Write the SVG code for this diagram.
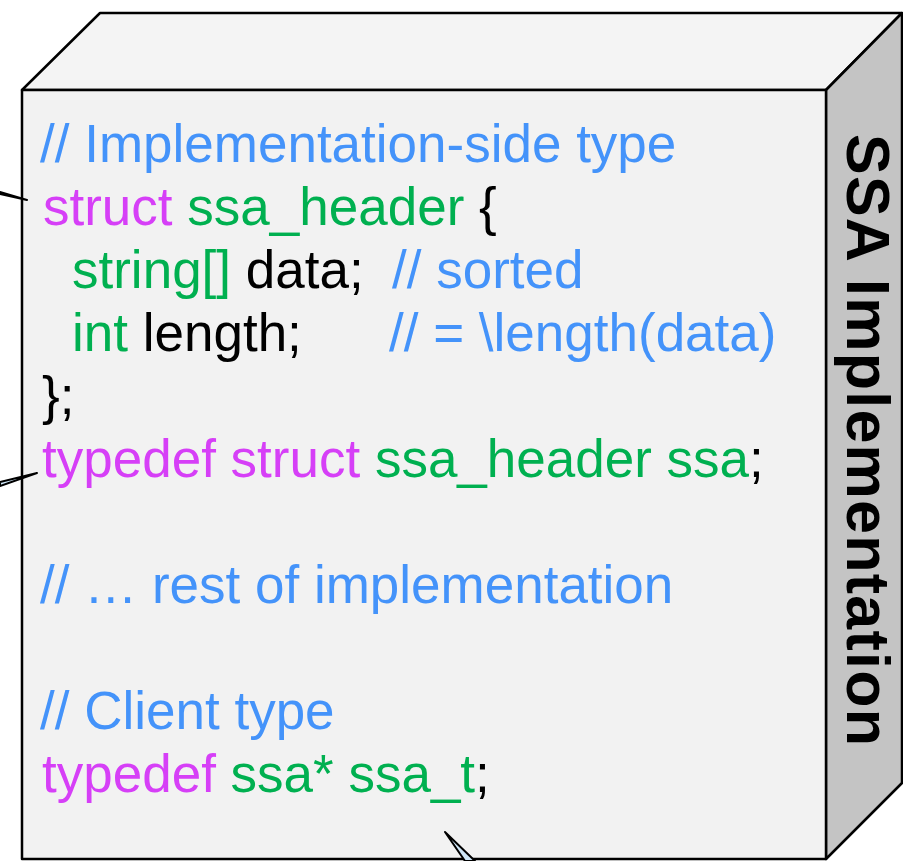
<svg xmlns="http://www.w3.org/2000/svg" width="903" height="861" viewBox="0 0 903 861">
<style>
.face{stroke:#000;stroke-width:2.5;stroke-linejoin:round}
.code{font-family:"Liberation Sans",Arial,sans-serif;font-size:53px}
.c{fill:#4493fa}.k{fill:#d63ff7}.t{fill:#00b050}.p{fill:#000}
.tail{fill:#cfe6f7;stroke:#000;stroke-width:2;stroke-linejoin:round}
</style>
<rect width="903" height="861" fill="#fff"/>
<g id="ssa-implementation">
<polygon class="face" fill="#f4f4f4" points="22,90 100,13 902,13 826,90"/>
<polygon class="face" fill="#c4c4c4" points="826,90 902,13 902,783 826,859"/>
<rect class="face" fill="#f2f2f2" x="22" y="90" width="804" height="769"/>
<text x="847" y="440" transform="rotate(90 847 440)" text-anchor="middle" textLength="612" lengthAdjust="spacing" font-family="Liberation Sans, Arial, sans-serif" font-size="61" font-weight="bold" fill="#000">SSA Implementation</text>
<text class="code">
<tspan class="c" x="40" y="162">// Implementation-side type</tspan>
<tspan x="43" y="225"><tspan class="k">struct</tspan> <tspan class="t">ssa_header</tspan> <tspan class="p">{</tspan></tspan>
<tspan x="72" y="288"><tspan class="t">string[]</tspan> <tspan class="p">data;</tspan></tspan>
<tspan class="c" x="392" y="288">// sorted</tspan>
<tspan x="72" y="351"><tspan class="t">int</tspan> <tspan class="p">length;</tspan></tspan>
<tspan class="c" x="389" y="351">// = \length(data)</tspan>
<tspan class="p" x="42" y="414">};</tspan>
<tspan x="42" y="477"><tspan class="k">typedef struct</tspan> <tspan class="t">ssa_header ssa</tspan><tspan class="p">;</tspan></tspan>
<tspan class="c" x="40" y="603">// … rest of implementation</tspan>
<tspan class="c" x="40" y="729">// Client type</tspan>
<tspan x="42" y="792"><tspan class="k">typedef</tspan> <tspan class="t">ssa* ssa_t</tspan><tspan class="p">;</tspan></tspan>
</text>
</g>
<g id="connectors">
<polygon class="tail" points="0,192 27,200 0,194"/>
<polygon class="tail" points="0,482 37,473 0,486"/>
<polygon class="tail" points="445,832 465,861 475,861"/>
</g>
</svg>
